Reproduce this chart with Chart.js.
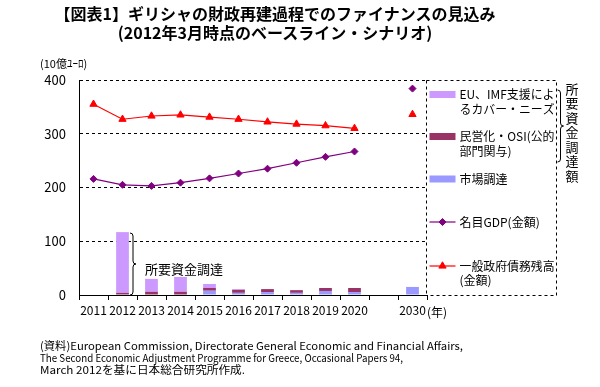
<!DOCTYPE html>
<html><head><meta charset="utf-8">
<script src="https://cdn.jsdelivr.net/npm/chart.js@4/dist/chart.umd.min.js"></script>
<style>
html,body{margin:0;padding:0;background:#fff;}
#wrap{position:relative;width:600px;height:387px;overflow:hidden;font-family:'Noto Sans CJK JP',sans-serif;color:#000;}
#c{position:absolute;left:0;top:0;}
.title{position:absolute;left:0;width:550px;text-align:center;font-weight:bold;font-size:16px;line-height:19px;white-space:nowrap;}
.note{position:absolute;left:40px;font-size:11px;line-height:12px;white-space:nowrap;transform-origin:0 50%;}
.unit{position:absolute;left:40px;top:56px;font-size:11px;line-height:14px;white-space:nowrap;}
</style></head><body>
<div id="wrap">
<canvas id="c" width="600" height="387"></canvas>
<div class="title" style="top:4px">【図表1】ギリシャの財政再建過程でのファイナンスの見込み</div>
<div class="title" style="top:23px">(2012年3月時点のベースライン・シナリオ)</div>
<div class="unit">(10億ﾕｰﾛ)</div>
<div class="note" data-w="423" style="top:339px">(資料)European Commission, Directorate General Economic and Financial Affairs,</div>
<div class="note" data-w="363" style="top:351px">The Second Economic Adjustment Programme for Greece, Occasional Papers 94,</div>
<div class="note" data-w="205" style="top:363px">March 2012を基に日本総合研究所作成.</div>
</div>
<script>
// ---- data ----
const years  = ['2011','2012','2013','2014','2015','2016','2017','2018','2019','2020','','2030'];
const euImf  = [null, 113, 24, 27.5, 7.5, 1.5, 0, 0, 0, 0, null, 0];
const osi    = [null, 4, 6, 6, 5, 5.5, 5.5, 5, 5.5, 7.5, null, 0];
const market = [null, 0, 0, 0, 8, 4, 5.5, 4, 7.5, 5.5, null, 15];
const gdp    = [216, 205, 203, 209, 217, 226, 235, 246, 257, 267, null, 384];
const debt   = [355, 327, 333, 335, 331, 327, 322, 318, 315, 310, null, 336];
const yTicks = [0, 100, 200, 300, 400];

const legendItems = [
  {kind:'rect', color:'#CC99FF', lines:['EU、IMF支援によ','るカバー・ニーズ'], y:94.5},
  {kind:'rect', color:'#993366', lines:['民営化・OSI(公的','部門関与)'], y:136.5},
  {kind:'rect', color:'#9999FF', lines:['市場調達'], y:179},
  {kind:'line', color:'#800080', style:'rectRot', r:3.5, lines:['名目GDP(金額)'], y:222},
  {kind:'line', color:'#FF0000', style:'triangle', r:4.2, lines:['一般政府債務残高','(金額)'], y:266}
];
const FONT = '"Noto Sans CJK JP", sans-serif';

document.querySelectorAll('.note').forEach(el=>{
  const w = el.getBoundingClientRect().width;
  el.style.transform = 'scaleX(' + (parseFloat(el.dataset.w)/w) + ')';
});

function brace(ctx, x, y1, y2, w){
  const m = (y1+y2)/2, h = w/2;
  ctx.beginPath();
  ctx.moveTo(x, y1);
  ctx.quadraticCurveTo(x+h, y1, x+h, y1+h);
  ctx.lineTo(x+h, m-h);
  ctx.quadraticCurveTo(x+h, m, x+w, m);
  ctx.quadraticCurveTo(x+h, m, x+h, m+h);
  ctx.lineTo(x+h, y2-h);
  ctx.quadraticCurveTo(x+h, y2, x, y2);
  ctx.stroke();
}

function fitText(ctx, t, x, y, maxW){
  const w = ctx.measureText(t).width;
  if (w > maxW){
    ctx.save(); ctx.translate(x, y); ctx.scale(maxW/w, 1); ctx.fillText(t, 0, 0); ctx.restore();
  } else ctx.fillText(t, x, y);
}

const overlay = {
  id:'overlay',
  afterDraw(chart){
    const {ctx, chartArea:a} = chart;
    ctx.save();
    ctx.strokeStyle='#000'; ctx.lineWidth=1; ctx.setLineDash([3,3]);
    const L = Math.round(a.right)-0.5, R = 556.5, T = Math.round(a.top)+0.5, B = Math.round(a.bottom)+0.5;
    ctx.beginPath();
    ctx.moveTo(L,T); ctx.lineTo(R,T); ctx.lineTo(R,B); ctx.lineTo(L,B);
    ctx.moveTo(L,T); ctx.lineTo(L,B);
    ctx.stroke();
    ctx.setLineDash([]);
    // legend
    const lx = L + 3;
    ctx.font = '12px ' + FONT;
    ctx.textBaseline = 'middle'; ctx.textAlign = 'left';
    legendItems.forEach(it=>{
      if(it.kind==='rect'){
        ctx.fillStyle = it.color;
        ctx.fillRect(lx, it.y-3.5, 26, 7);
      } else {
        ctx.strokeStyle = it.color; ctx.lineWidth = 1.2;
        ctx.beginPath(); ctx.moveTo(lx, it.y); ctx.lineTo(lx+26, it.y); ctx.stroke();
        ctx.fillStyle = it.color; ctx.strokeStyle = it.color; ctx.lineWidth = 1;
        Chart.helpers.drawPoint(ctx, {pointStyle:it.style, radius:it.r, borderWidth:1, rotation:0}, lx+13, it.y);
      }
      ctx.fillStyle = '#000';
      it.lines.forEach((t,i)=> fitText(ctx, t, lx+30, it.y + i*14.5, R - 2 - (lx+30)));
    });
    // braces
    ctx.strokeStyle = '#000'; ctx.lineWidth = 1;
    brace(ctx, 557.5, 90, 162, 6);
    brace(ctx, 130, 233, 295, 6);
    // vertical label
    ctx.font = '13px ' + FONT; ctx.textAlign = 'center';
    '所要資金調達額'.split('').forEach((ch,i)=> ctx.fillText(ch, 572, 89 + i*14.5));
    ctx.textAlign = 'left';
    ctx.fillText('所要資金調達', 145, 269);
    // year unit
    ctx.font = '12px ' + FONT;
    ctx.fillText('(年)', 427, 312);
    ctx.restore();
  }
};

new Chart(document.getElementById('c'), {
  type:'bar',
  data:{labels: years, datasets:[
    {type:'line', label:'名目GDP(金額)', data:gdp, borderColor:'#800080', backgroundColor:'#800080',
     pointStyle:'rectRot', pointRadius:3.5, pointBorderWidth:1, borderWidth:1.2, stack:'gdp', order:0, spanGaps:false, tension:0},
    {type:'line', label:'一般政府債務残高(金額)', data:debt, borderColor:'#FF0000', backgroundColor:'#FF0000',
     pointStyle:'triangle', pointRadius:4.2, pointBorderWidth:1, borderWidth:1.2, stack:'debt', order:0, spanGaps:false, tension:0},
    {label:'市場調達', data:market, backgroundColor:'#9999FF', stack:'fund', order:1, barPercentage:0.44, categoryPercentage:1},
    {label:'民営化・OSI(公的部門関与)', data:osi, backgroundColor:'#993366', stack:'fund', order:1, barPercentage:0.44, categoryPercentage:1},
    {label:'EU、IMF支援によるカバー・ニーズ', data:euImf, backgroundColor:'#CC99FF', stack:'fund', order:1, barPercentage:0.44, categoryPercentage:1}
  ]},
  options:{
    responsive:false, animation:false, devicePixelRatio:1,
    layout:{padding:{left:0,right:173,top:80,bottom:62}},
    font:{family:FONT},
    plugins:{legend:{display:false}, tooltip:{enabled:false}},
    scales:{
      x:{stacked:true, offset:true,
         grid:{display:true, drawOnChartArea:false, drawTicks:true, tickLength:5, color:'#000', offset:true},
         border:{display:true, color:'#000', width:1},
         ticks:{color:'#000', font:{size:12, family:FONT}, padding:3, maxRotation:0, autoSkip:false},
         afterFit(s){ s.height = 30; }},
      y:{stacked:true, min:0, max:400,
         afterBuildTicks(s){ s.ticks = yTicks.map(v=>({value:v})); },
         ticks:{color:'#000', font:{size:13, family:FONT}, padding:13},
         grid:{color:c=> (c.tick && c.tick.value===0) ? 'rgba(0,0,0,0)' : '#000', drawTicks:false, lineWidth:1},
         border:{display:true, color:'#000', width:1, dash:[3,3]},
         afterFit(s){ s.width = 79; }}
    }
  },
  plugins:[overlay]
});
</script>
</body></html>
